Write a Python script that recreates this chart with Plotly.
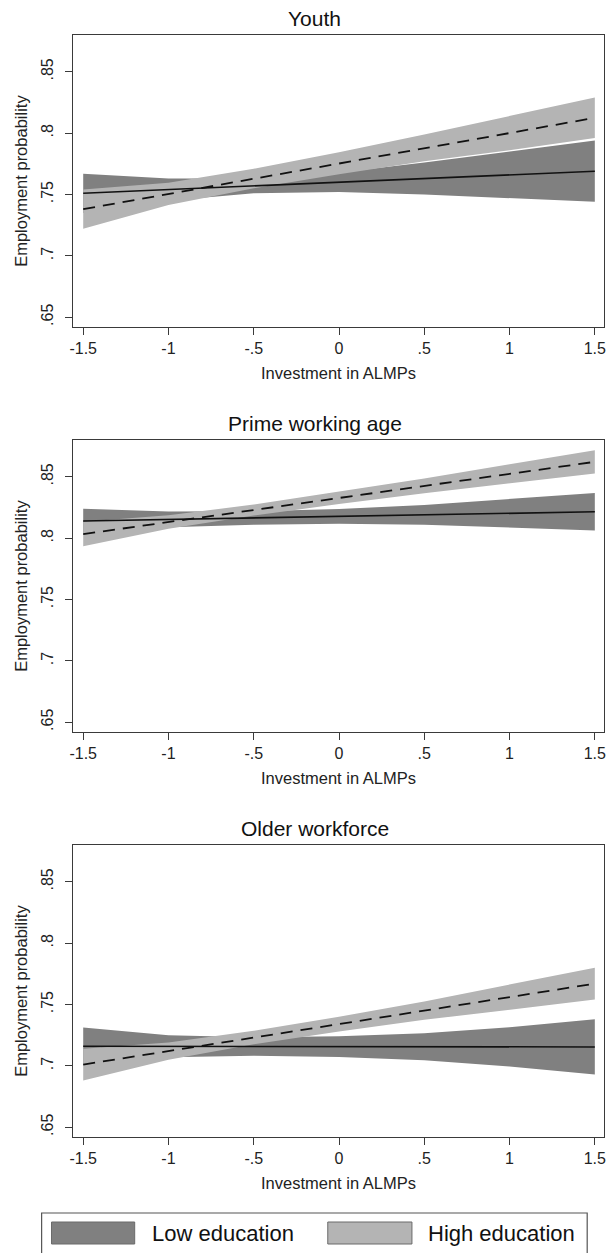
import plotly.graph_objects as go

# ---------------- data ----------------
x_vals = [-1.5, -1.0, -0.5, 0.0, 0.5, 1.0, 1.5]
panel_titles = ["Youth", "Prime working age", "Older workforce"]
series_names = ["Low education", "High education"]

x_tick_vals = [-1.5, -1.0, -0.5, 0.0, 0.5, 1.0, 1.5]
x_tick_text = ["-1.5", "-1", "-.5", "0", ".5", "1", "1.5"]
y_tick_vals = [0.65, 0.70, 0.75, 0.80, 0.85]
y_tick_text = [".65", ".7", ".75", ".8", ".85"]
x_title = "Investment in ALMPs"
y_title = "Employment probability"

# Youth
youth_low_est = [0.751, 0.754, 0.757, 0.760, 0.763, 0.766, 0.769]
youth_low_upper = [0.767, 0.763, 0.763, 0.768, 0.776, 0.785, 0.794]
youth_low_lower = [0.735, 0.745, 0.751, 0.752, 0.750, 0.747, 0.744]
youth_high_est = [0.738, 0.7505, 0.763, 0.7755, 0.788, 0.800, 0.8125]
youth_high_upper = [0.754, 0.7595, 0.771, 0.7845, 0.799, 0.814, 0.829]
youth_high_lower = [0.722, 0.7415, 0.755, 0.7665, 0.777, 0.786, 0.796]

# Prime working age
prime_low_est = [0.814, 0.8153, 0.8165, 0.8178, 0.819, 0.8203, 0.8215]
prime_low_upper = [0.824, 0.8218, 0.822, 0.8238, 0.827, 0.8318, 0.8368]
prime_low_lower = [0.804, 0.8088, 0.811, 0.8118, 0.811, 0.8088, 0.8062]
prime_high_est = [0.8033, 0.8131, 0.8229, 0.8328, 0.8426, 0.8524, 0.8622]
prime_high_upper = [0.8133, 0.8186, 0.8274, 0.8378, 0.8486, 0.8602, 0.8717]
prime_high_lower = [0.7933, 0.8076, 0.8184, 0.8278, 0.8366, 0.8446, 0.8527]

# Older workforce
older_low_est = [0.716, 0.7159, 0.7158, 0.7157, 0.7156, 0.7155, 0.7154]
older_low_upper = [0.7312, 0.7249, 0.7233, 0.7242, 0.7266, 0.7315, 0.7379]
older_low_lower = [0.7008, 0.7069, 0.7083, 0.7072, 0.7046, 0.6995, 0.6929]
older_high_est = [0.701, 0.712, 0.723, 0.734, 0.745, 0.756, 0.767]
older_high_upper = [0.714, 0.719, 0.7285, 0.740, 0.7525, 0.766, 0.780]
older_high_lower = [0.688, 0.705, 0.7175, 0.728, 0.7375, 0.746, 0.754]

panels = [
    (youth_low_est, youth_low_upper, youth_low_lower,
     youth_high_est, youth_high_upper, youth_high_lower),
    (prime_low_est, prime_low_upper, prime_low_lower,
     prime_high_est, prime_high_upper, prime_high_lower),
    (older_low_est, older_low_upper, older_low_lower,
     older_high_est, older_high_upper, older_high_lower),
]

# ---------------- style ----------------
W, H = 609, 1253
FONT = "Liberation Sans, Arial, sans-serif"
DARK = "#808080"
LIGHT = "#b4b4b4"
FRAME = "#3a3a3a"

# pixel layout (top, bottom) of each plot area
plot_left, plot_right = 70, 606
plot_tops = [35, 440, 845]
plot_h = 292
x_range = [-1.558, 1.554]
y_range = [0.642, 0.880]


def px_x(p):
    return p / W


def px_y(p):
    return 1 - p / H


fig = go.Figure()
annotations = []
shapes = []

for i, (le, lu, ll, he, hu, hl) in enumerate(panels):
    ax = "" if i == 0 else str(i + 1)
    xref, yref = "x" + ax, "y" + ax
    # bands
    fig.add_trace(go.Scatter(
        x=x_vals + x_vals[::-1], y=lu + ll[::-1], fill="toself",
        fillcolor=DARK, line=dict(width=0), mode="lines",
        hoverinfo="skip", showlegend=False, xaxis=xref, yaxis=yref))
    fig.add_trace(go.Scatter(
        x=x_vals + x_vals[::-1], y=hu + hl[::-1], fill="toself",
        fillcolor=LIGHT, line=dict(width=0), mode="lines",
        hoverinfo="skip", showlegend=False, xaxis=xref, yaxis=yref))
    # lines
    fig.add_trace(go.Scatter(
        x=x_vals, y=le, mode="lines", line=dict(color="#111", width=1.6),
        showlegend=False, name=series_names[0], xaxis=xref, yaxis=yref))
    fig.add_trace(go.Scatter(
        x=x_vals, y=he, mode="lines",
        line=dict(color="#111", width=1.8, dash="12px,8px"),
        showlegend=False, name=series_names[1], xaxis=xref, yaxis=yref))

    top = plot_tops[i]
    bottom = top + plot_h
    axis_common = dict(
        showline=True, linecolor=FRAME, linewidth=1.2, mirror=True,
        showgrid=False, zeroline=False, ticks="outside", ticklen=7,
        tickcolor=FRAME, tickwidth=1.2,
        tickfont=dict(family=FONT, size=16, color="#222"),
    )
    fig.layout["xaxis" + ax] = dict(
        domain=[px_x(plot_left), px_x(plot_right)], range=x_range,
        tickvals=x_tick_vals, ticktext=x_tick_text,
        anchor="y" + ax, **axis_common)
    fig.layout["yaxis" + ax] = dict(
        domain=[px_y(bottom), px_y(top)], range=y_range,
        tickvals=y_tick_vals, ticktext=y_tick_text, tickangle=-90,
        ticklabelstandoff=6,
        anchor="x" + ax, **axis_common)

    # panel title
    annotations.append(dict(
        text=panel_titles[i], x=px_x(314), y=px_y(top - 17),
        xref="paper", yref="paper", showarrow=False,
        xanchor="center", yanchor="middle",
        font=dict(family=FONT, size=21, color="#111")))
    # x-axis title
    annotations.append(dict(
        text=x_title, x=px_x((plot_left + plot_right) / 2),
        y=px_y(bottom + 46), xref="paper", yref="paper", showarrow=False,
        xanchor="center", yanchor="middle",
        font=dict(family=FONT, size=16.5, color="#222")))
    # y-axis title
    annotations.append(dict(
        text=y_title, x=px_x(17), y=px_y((top + bottom) / 2),
        xref="paper", yref="paper", showarrow=False, textangle=-90,
        xanchor="center", yanchor="middle",
        font=dict(family=FONT, size=16.5, color="#222")))

# ---------------- legend (drawn) ----------------
shapes.append(dict(type="rect", xref="paper", yref="paper",
                   x0=px_x(38), x1=px_x(589), y0=px_y(1275), y1=px_y(1213),
                   line=dict(color="#555", width=1.2), fillcolor="white"))
legend_items = [(series_names[0], DARK, 48, 132, 147),
                (series_names[1], LIGHT, 327, 412, 426)]
for name, col, sx0, sx1, tx in legend_items:
    shapes.append(dict(type="rect", xref="paper", yref="paper",
                       x0=px_x(sx0), x1=px_x(sx1), y0=px_y(1244), y1=px_y(1222),
                       line=dict(color="#6a6a6a", width=1), fillcolor=col))
    annotations.append(dict(
        text=name, x=px_x(tx), y=px_y(1233), xref="paper", yref="paper",
        showarrow=False, xanchor="left", yanchor="middle",
        font=dict(family=FONT, size=22, color="#111")))

fig.update_layout(
    width=W, height=H, margin=dict(l=0, r=0, t=0, b=0),
    paper_bgcolor="white", plot_bgcolor="white",
    showlegend=False, annotations=annotations, shapes=shapes,
)

fig.write_html("out.html")
